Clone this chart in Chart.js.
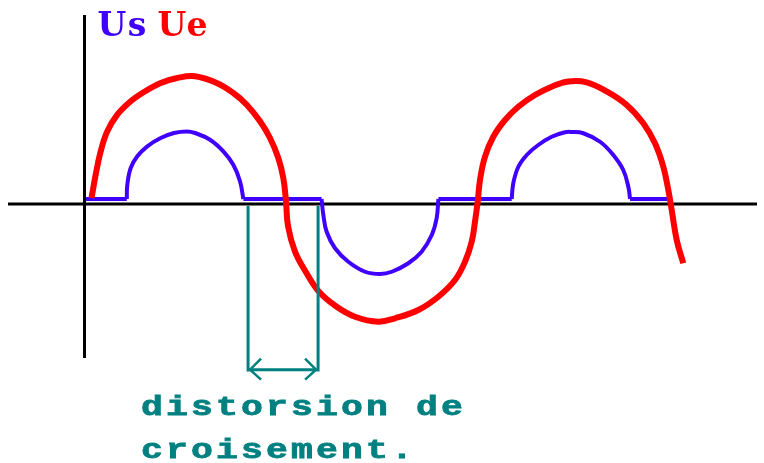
<!DOCTYPE html>
<html>
<head>
<meta charset="utf-8">
<script src="https://cdn.jsdelivr.net/npm/chart.js@4/dist/chart.umd.min.js"></script>
<style>
html,body{margin:0;padding:0;background:#fff;}
#wrap{width:764px;height:463px;}
</style>
</head>
<body>
<div id="wrap"><canvas id="c" width="764" height="463"></canvas></div>
<script>
// Time in ms (period ~20 ms), voltage in V
// Ue: input signal
const redT = [0.231,0.446,0.703,1.041,1.554,2.241,2.923,3.779,4.631,5.538,6.651,7.503,8.190,8.872,9.385,9.810,10.067,10.205,10.308,10.667,11.215,11.897,12.805,13.744,14.938,15.795,16.990,18.015,18.872,19.385,19.728,19.897,20.036,20.154,20.410,20.836,21.436,22.118,22.974,23.831,24.682,25.626,26.651,27.677,28.528,29.128,29.554,29.810,29.985,30.241,30.579];
const redV = [0.48,2.344,4.216,5.816,7.144,8.216,8.96,9.68,10.08,10.216,9.68,8.88,7.944,6.616,5.28,3.68,2.08,0.216,-1.76,-3.816,-5.416,-7.016,-8.216,-9.016,-9.416,-9.144,-8.48,-7.416,-6.08,-4.616,-3.016,-1.416,0.184,1.92,3.784,5.384,6.72,7.784,8.72,9.384,9.8,9.736,9.0,7.92,6.456,4.856,2.984,1.12,-0.48,-2.88,-4.744];

// Us: output signal — dead-band (flat) segments and conduction arcs
const flatT = [-0.05,2.04,null,8.02,12.03,null,18.02,21.78,null,27.85,29.81];
const flatV = [0.4,0.4,null,0.4,0.4,null,0.4,0.4,null,0.4,0.4];
const arc1T = [2.04,2.067,2.241,2.579,3.092,3.779,4.462,5.128,5.538,6.308,6.990,7.503,7.846,8.02];
const arc1V = [0.4,1.544,2.88,3.816,4.616,5.28,5.68,5.80,5.68,5.144,4.216,3.144,1.816,0.4];
const arc2T = [12.03,12.12,12.29,12.72,13.40,14.26,15.03,15.63,16.48,17.16,17.68,17.93,18.02];
const arc2V = [0.4,-0.88,-2.22,-3.54,-4.62,-5.42,-5.60,-5.42,-4.74,-3.82,-2.48,-1.14,0.4];
const arc3T = [21.78,21.86,22.12,22.55,23.14,23.83,24.51,24.87,25.45,26.31,26.99,27.50,27.76,27.85];
const arc3V = [0.4,1.66,2.98,3.92,4.72,5.38,5.74,5.76,5.66,4.98,3.92,2.72,1.38,0.4];

// Axis extents (value units)
const axisXRange = [-4.05, 34.36];
const axisYRange = [-12.32, 15.12];
// Crossover distortion markers (ms) and bracket depth (V)
const markerT = [8.26, 11.85];
const markerBottomV = -13.4;
const arrowV = -13.25;

const legendLabels = ["Us", "Ue"];
const noteLines = ["distorsion de", "croisement."];

const RED = '#ff0000', BLUE = '#4000ff', TEAL = '#008080';
const SLAB = '"DejaVu Serif","Liberation Serif",serif';
const MONO = '"Liberation Mono","DejaVu Sans Mono",monospace';

const toPts = (ts, vs) => ts.map((t, i) => ({x: t, y: vs[i]}));

function drawSpaced(ctx, text, cx0, baseline, pitch, font, sx, color, stroke) {
  ctx.save();
  ctx.font = font;
  ctx.fillStyle = color;
  ctx.strokeStyle = color;
  ctx.lineWidth = stroke || 0;
  ctx.textAlign = 'center';
  ctx.textBaseline = 'alphabetic';
  for (let i = 0; i < text.length; i++) {
    const ch = text[i];
    if (ch === ' ') continue;
    ctx.save();
    ctx.translate(cx0 + i * pitch, baseline);
    ctx.scale(sx, 1);
    ctx.fillText(ch, 0, 0);
    if (stroke) ctx.strokeText(ch, 0, 0);
    ctx.restore();
  }
  ctx.restore();
}

const overlay = {
  id: 'overlay',
  beforeDatasetsDraw(chart) {
    const {ctx, scales: {x, y}} = chart;
    ctx.save();
    ctx.strokeStyle = '#000';
    ctx.lineWidth = 3;
    ctx.beginPath();
    const y0 = y.getPixelForValue(0);
    ctx.moveTo(x.getPixelForValue(axisXRange[0]), y0);
    ctx.lineTo(x.getPixelForValue(axisXRange[1]), y0);
    const x0 = x.getPixelForValue(0) - 2.5;
    ctx.moveTo(x0, y.getPixelForValue(axisYRange[1]));
    ctx.lineTo(x0, y.getPixelForValue(axisYRange[0]));
    ctx.stroke();
    ctx.restore();
  },
  afterDatasetsDraw(chart) {
    const {ctx, scales: {x, y}} = chart;
    ctx.save();
    ctx.strokeStyle = TEAL;
    ctx.lineWidth = 3;
    const ya = y.getPixelForValue(0) + 2;
    const yb = y.getPixelForValue(markerBottomV);
    const xa = x.getPixelForValue(markerT[0]);
    const xb = x.getPixelForValue(markerT[1]);
    ctx.beginPath();
    ctx.moveTo(xa, ya); ctx.lineTo(xa, yb);
    ctx.moveTo(xb, ya); ctx.lineTo(xb, yb);
    const yr = y.getPixelForValue(arrowV);
    ctx.moveTo(xa, yr); ctx.lineTo(xb, yr);
    ctx.stroke();
    ctx.lineWidth = 2.5;
    ctx.beginPath();
    ctx.moveTo(xa + 13, yr - 11); ctx.lineTo(xa + 2, yr); ctx.lineTo(xa + 13, yr + 10);
    ctx.moveTo(xb - 13, yr - 11); ctx.lineTo(xb - 2, yr); ctx.lineTo(xb - 13, yr + 10);
    ctx.stroke();
    ctx.restore();

    const legFont = 'bold 33px ' + SLAB;
    drawSpaced(ctx, legendLabels[0], 112, 36, 25, legFont, 1.0, BLUE);
    drawSpaced(ctx, legendLabels[1], 172, 36, 25, legFont, 1.0, RED);

    const noteFont = 'bold 28px ' + MONO;
    drawSpaced(ctx, noteLines[0], 152, 415, 25, noteFont, 1.3, TEAL, 0.8);
    drawSpaced(ctx, noteLines[1], 152, 458, 25, noteFont, 1.3, TEAL, 0.8);
  }
};

const blueCommon = {
  borderColor: BLUE,
  borderWidth: 4,
  pointRadius: 0,
  tension: 0.4,
  borderJoinStyle: 'round',
  spanGaps: false,
  fill: false,
  order: 1
};

new Chart(document.getElementById('c'), {
  type: 'line',
  data: {
    datasets: [
      {
        label: 'Ue',
        data: toPts(redT, redV),
        borderColor: RED,
        borderWidth: 6,
        pointRadius: 0,
        tension: 0.4,
        borderJoinStyle: 'round',
        fill: false,
        order: 0
      },
      Object.assign({label: 'Us', data: toPts(flatT, flatV)}, blueCommon, {tension: 0}),
      Object.assign({label: 'Us', data: toPts(arc1T, arc1V)}, blueCommon),
      Object.assign({label: 'Us', data: toPts(arc2T, arc2V)}, blueCommon),
      Object.assign({label: 'Us', data: toPts(arc3T, arc3V)}, blueCommon)
    ]
  },
  options: {
    responsive: false,
    devicePixelRatio: 1,
    animation: false,
    layout: {padding: 0},
    plugins: {legend: {display: false}, tooltip: {enabled: false}},
    scales: {
      x: {type: 'linear', display: false, min: -87 / 19.5, max: 677 / 19.5},
      y: {type: 'linear', display: false, min: -20.72, max: 16.32}
    }
  },
  plugins: [overlay]
});
</script>
</body>
</html>
